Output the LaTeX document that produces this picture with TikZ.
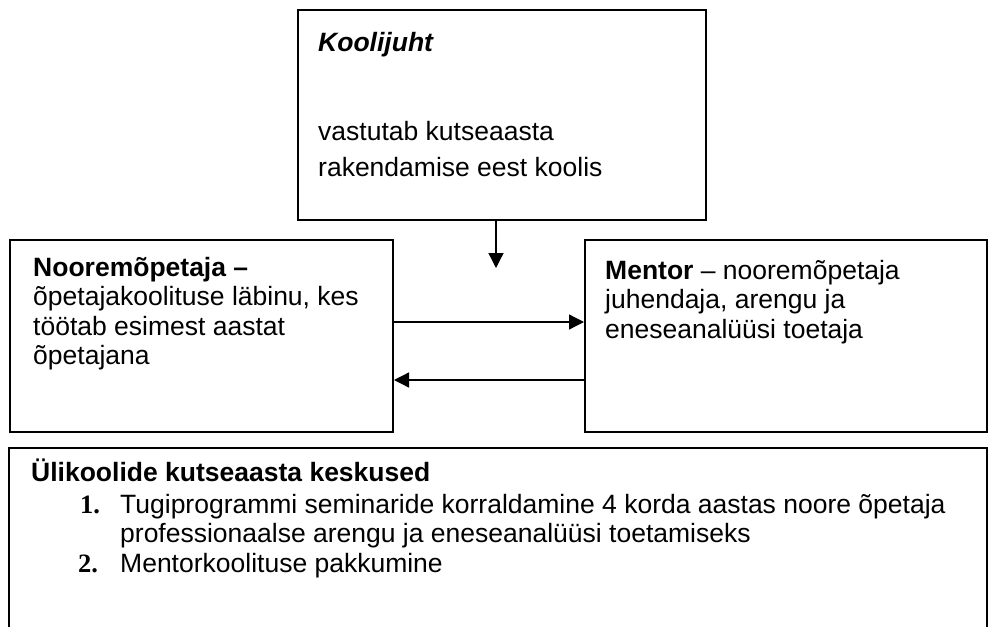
\documentclass[tikz,border=0pt]{standalone}
\usepackage{fontspec}
\setmainfont{Liberation Sans}
\newfontfamily\numfont{Liberation Serif}
\usetikzlibrary{arrows.meta}
\begin{document}
\begin{tikzpicture}[x=1pt,y=-1pt,
  box/.style={draw, line width=2pt, rectangle, inner sep=0pt},
  % base anchor of a multi-line text sits on its last line
  txt/.style={anchor=base west, inner sep=0pt, align=left,
    font=\fontsize{26.5}{29.5}\selectfont},
  numtxt/.style={txt, font=\fontsize{26.5}{29.5}\selectfont\numfont\bfseries},
  link/.style={line width=1.3pt, -{Triangle[length=15pt,width=15pt]}}]
\useasboundingbox (0,0) rectangle (989,627);
\clip (0,0) rectangle (989,627);

% frames
\node[box, minimum width=408pt, minimum height=210pt] (juht) at (502,115) {};
\node[box, minimum width=383pt, minimum height=192pt] (noor) at (201.5,336) {};
\node[box, minimum width=402pt, minimum height=192pt] (mentor) at (786,336) {};
% the lower frame runs on past the bottom edge
\node[box, minimum width=978pt, minimum height=220pt] (kesk) at (498,558) {};

% school head
\node[txt, font=\fontsize{26.5}{29.5}\selectfont\bfseries\itshape] (juhtT) at (318,51) {Koolijuht};
\node[txt, font=\fontsize{26.5}{36}\selectfont] (juhtB) at (318,176)
  {vastutab kutseaasta\\rakendamise eest koolis};

% novice teacher
\node[txt] (noorT) at (33,364.5)
  {\textbf{Nooremõpetaja –}\\õpetajakoolituse läbinu, kes\\töötab esimest aastat\\õpetajana};

% mentor
\node[txt] (mentorT) at (605,338)
  {\textbf{Mentor} – nooremõpetaja\\juhendaja, arengu ja\\eneseanalüüsi toetaja};

% university centres
\node[txt] (keskT) at (31,481) {\textbf{Ülikoolide kutseaasta keskused}};
\node[numtxt] (n1) at (80,513) {1.};
\node[txt] (i1) at (120,542.5)
  {Tugiprogrammi seminaride korraldamine 4 korda aastas noore õpetaja\\professionaalse arengu ja eneseanalüüsi toetamiseks};
\node[numtxt] (n2) at (78,572) {2.};
\node[txt] (i2) at (120,572) {Mentorkoolituse pakkumine};

% connectors
\coordinate (down) at (496,268);
\draw[link] (juht.south -| down) -- (down);
\draw[link] (noor.east |- 0,322) -- (mentor.west |- 0,322);
\draw[link] (mentor.west |- 0,380) -- (noor.east |- 0,380);
\end{tikzpicture}
\end{document}
